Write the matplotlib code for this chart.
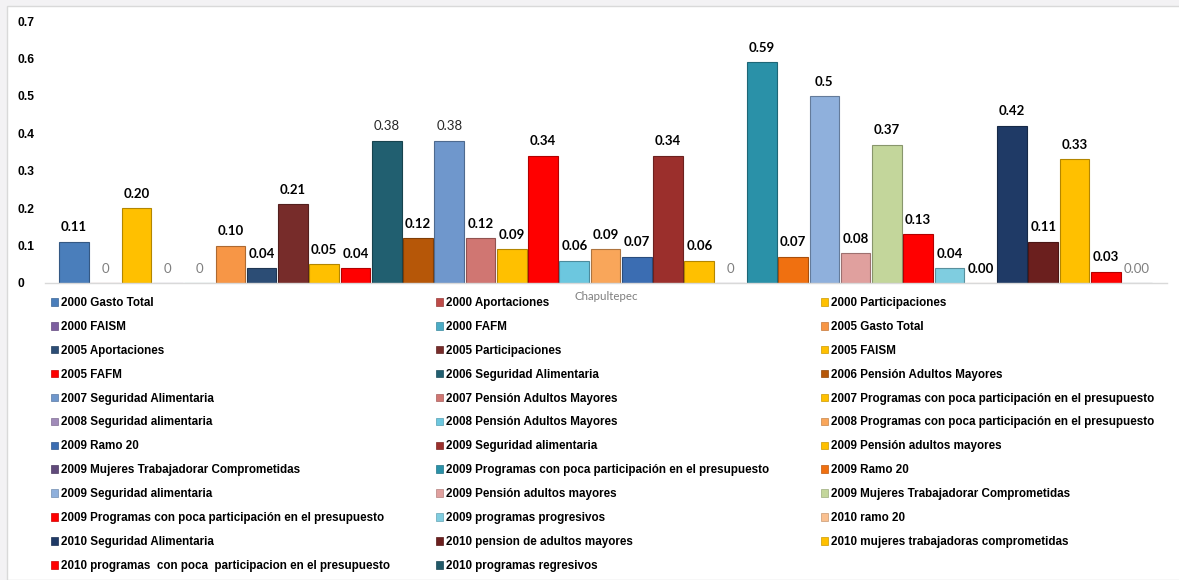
import matplotlib.pyplot as plt
from matplotlib.patches import Patch, Rectangle
from matplotlib.colors import to_rgb

# series names, in the order Excel plots them
series = [
    "2000 Gasto Total", "2000 Aportaciones", "2000 Participaciones",
    "2000 FAISM", "2000 FAFM", "2005 Gasto Total",
    "2005 Aportaciones", "2005 Participaciones", "2005 FAISM",
    "2005 FAFM", "2006 Seguridad Alimentaria", "2006 Pensión Adultos Mayores",
    "2007 Seguridad Alimentaria", "2007 Pensión Adultos Mayores",
    "2007 Programas con poca participación en el presupuesto",
    "2008 Seguridad alimentaria", "2008 Pensión Adultos Mayores",
    "2008 Programas con poca participación en el presupuesto",
    "2009 Ramo 20", "2009 Seguridad alimentaria", "2009 Pensión adultos mayores",
    "2009 Mujeres Trabajadorar Comprometidas",
    "2009 Programas con poca participación en el presupuesto", "2009 Ramo 20",
    "2009 Seguridad alimentaria", "2009 Pensión adultos mayores",
    "2009 Mujeres Trabajadorar Comprometidas",
    "2009 Programas con poca participación en el presupuesto",
    "2009 programas progresivos", "2010 ramo 20",
    "2010 Seguridad Alimentaria", "2010 pension de adultos mayores",
    "2010 mujeres trabajadoras comprometidas",
    "2010 programas  con poca  participacion en el presupuesto",
    "2010 programas regresivos",
]

values = [0.11, 0, 0.20, 0, 0, 0.10, 0.04, 0.21, 0.05, 0.04,
          0.38, 0.12, 0.38, 0.12, 0.09, 0.34, 0.06, 0.09, 0.07, 0.34,
          0.06, 0, 0.59, 0.07, 0.50, 0.08, 0.37, 0.13, 0.04, 0.00,
          0.42, 0.11, 0.33, 0.03, 0.00]

value_labels = ["0.11", "0", "0.20", "0", "0", "0.10", "0.04", "0.21", "0.05", "0.04",
                "0.38", "0.12", "0.38", "0.12", "0.09", "0.34", "0.06", "0.09", "0.07", "0.34",
                "0.06", "0", "0.59", "0.07", "0.5", "0.08", "0.37", "0.13", "0.04", "0.00",
                "0.42", "0.11", "0.33", "0.03", "0.00"]

# legend colours (Excel palette)
colors = ["#4a7ebb", "#be4b48", "#ffc000", "#7d5fa0", "#4bacc6", "#f79646",
          "#2c4d75", "#772c2a", "#ffc000", "#ff0000", "#215f70", "#b65708",
          "#6f97cc", "#d07672", "#ffc000", "#a08bb9", "#6cc7df", "#f9a65a",
          "#3b6db2", "#9b2f2c", "#ffc000", "#604a7b", "#2a91a8", "#f07010",
          "#8fb0dc", "#e0a09e", "#c3d69b", "#ff0000", "#7fcde0", "#fac090",
          "#1f3a66", "#6b1f1e", "#ffc000", "#ff0000", "#215968"]
bar_colors = list(colors)
bar_colors[15] = "#ff0000"   # drawn red in the chart

# labels that are not bold
plain = {1: "gray", 3: "gray", 4: "gray", 10: "dark", 12: "dark", 21: "gray", 34: "gray"}


def darker(c, f=0.7):
    r, g, b = to_rgb(c)
    return (r * f, g * f, b * f)


W, H = 1179, 580
fig = plt.figure(figsize=(W / 100, H / 100), dpi=100)
fig.patch.set_facecolor("#f3f2f4")
fig.patches.append(Rectangle((7 / W, 0), 1, 1 - 6 / H, transform=fig.transFigure,
                             facecolor="white", edgecolor="#d9d9d9", lw=1, zorder=-5))

ax = fig.add_axes([45 / W, 1 - 283 / H, (1167 - 45) / W, (283 - 21) / H])
ax.set_facecolor("none")
ax.set_zorder(2)

x = list(range(len(values)))
bars = ax.bar(x, values, width=0.95, color=bar_colors,
              edgecolor=[darker(c) for c in bar_colors], linewidth=0.8, zorder=2)

texts = ax.bar_label(bars, labels=value_labels, padding=6, fontsize=9.5,
                     family="Lato", fontweight="bold", color="black")
for i, t in enumerate(texts):
    if i in plain:
        t.set_fontweight("normal")
        t.set_color("#7f7f7f" if plain[i] == "gray" else "#262626")

ax.set_xlim(-0.93, 34.96)
ax.set_ylim(0, 0.7)
ax.set_yticks([0, 0.1, 0.2, 0.3, 0.4, 0.5, 0.6, 0.7])
ax.set_yticklabels(["0", "0.1", "0.2", "0.3", "0.4", "0.5", "0.6", "0.7"],
                   fontsize=8.7, fontweight="bold", family="Liberation Sans", ha="left")
ax.tick_params(axis="y", length=0, pad=20)
ax.set_xticks([])
ax.set_xlabel("Chapultepec", fontsize=8.3, family="Lato", color="#7f7f7f", labelpad=6)

for s in ["top", "right", "left"]:
    ax.spines[s].set_visible(False)
ax.spines["bottom"].set_color("#d9d9d9")
ax.spines["bottom"].set_linewidth(1)

# legend: row-major order in 3 columns
handles = [Patch(facecolor=c, edgecolor=darker(c, 0.8), lw=0.5) for c in colors]
col_x = [51, 436, 821]
for c in range(3):
    leg = fig.legend(handles[c::3], series[c::3], loc="upper left",
                     bbox_to_anchor=(col_x[c] / W, 1 - 297 / H), frameon=False,
                     prop={"family": "Liberation Sans", "weight": "bold", "size": 8.4},
                     handlelength=0.62, handleheight=0.62, handletextpad=0.2,
                     labelspacing=1.02, borderpad=0, borderaxespad=0)
    leg.set_zorder(3)

fig.savefig("out.png", dpi=100, facecolor=fig.get_facecolor())
